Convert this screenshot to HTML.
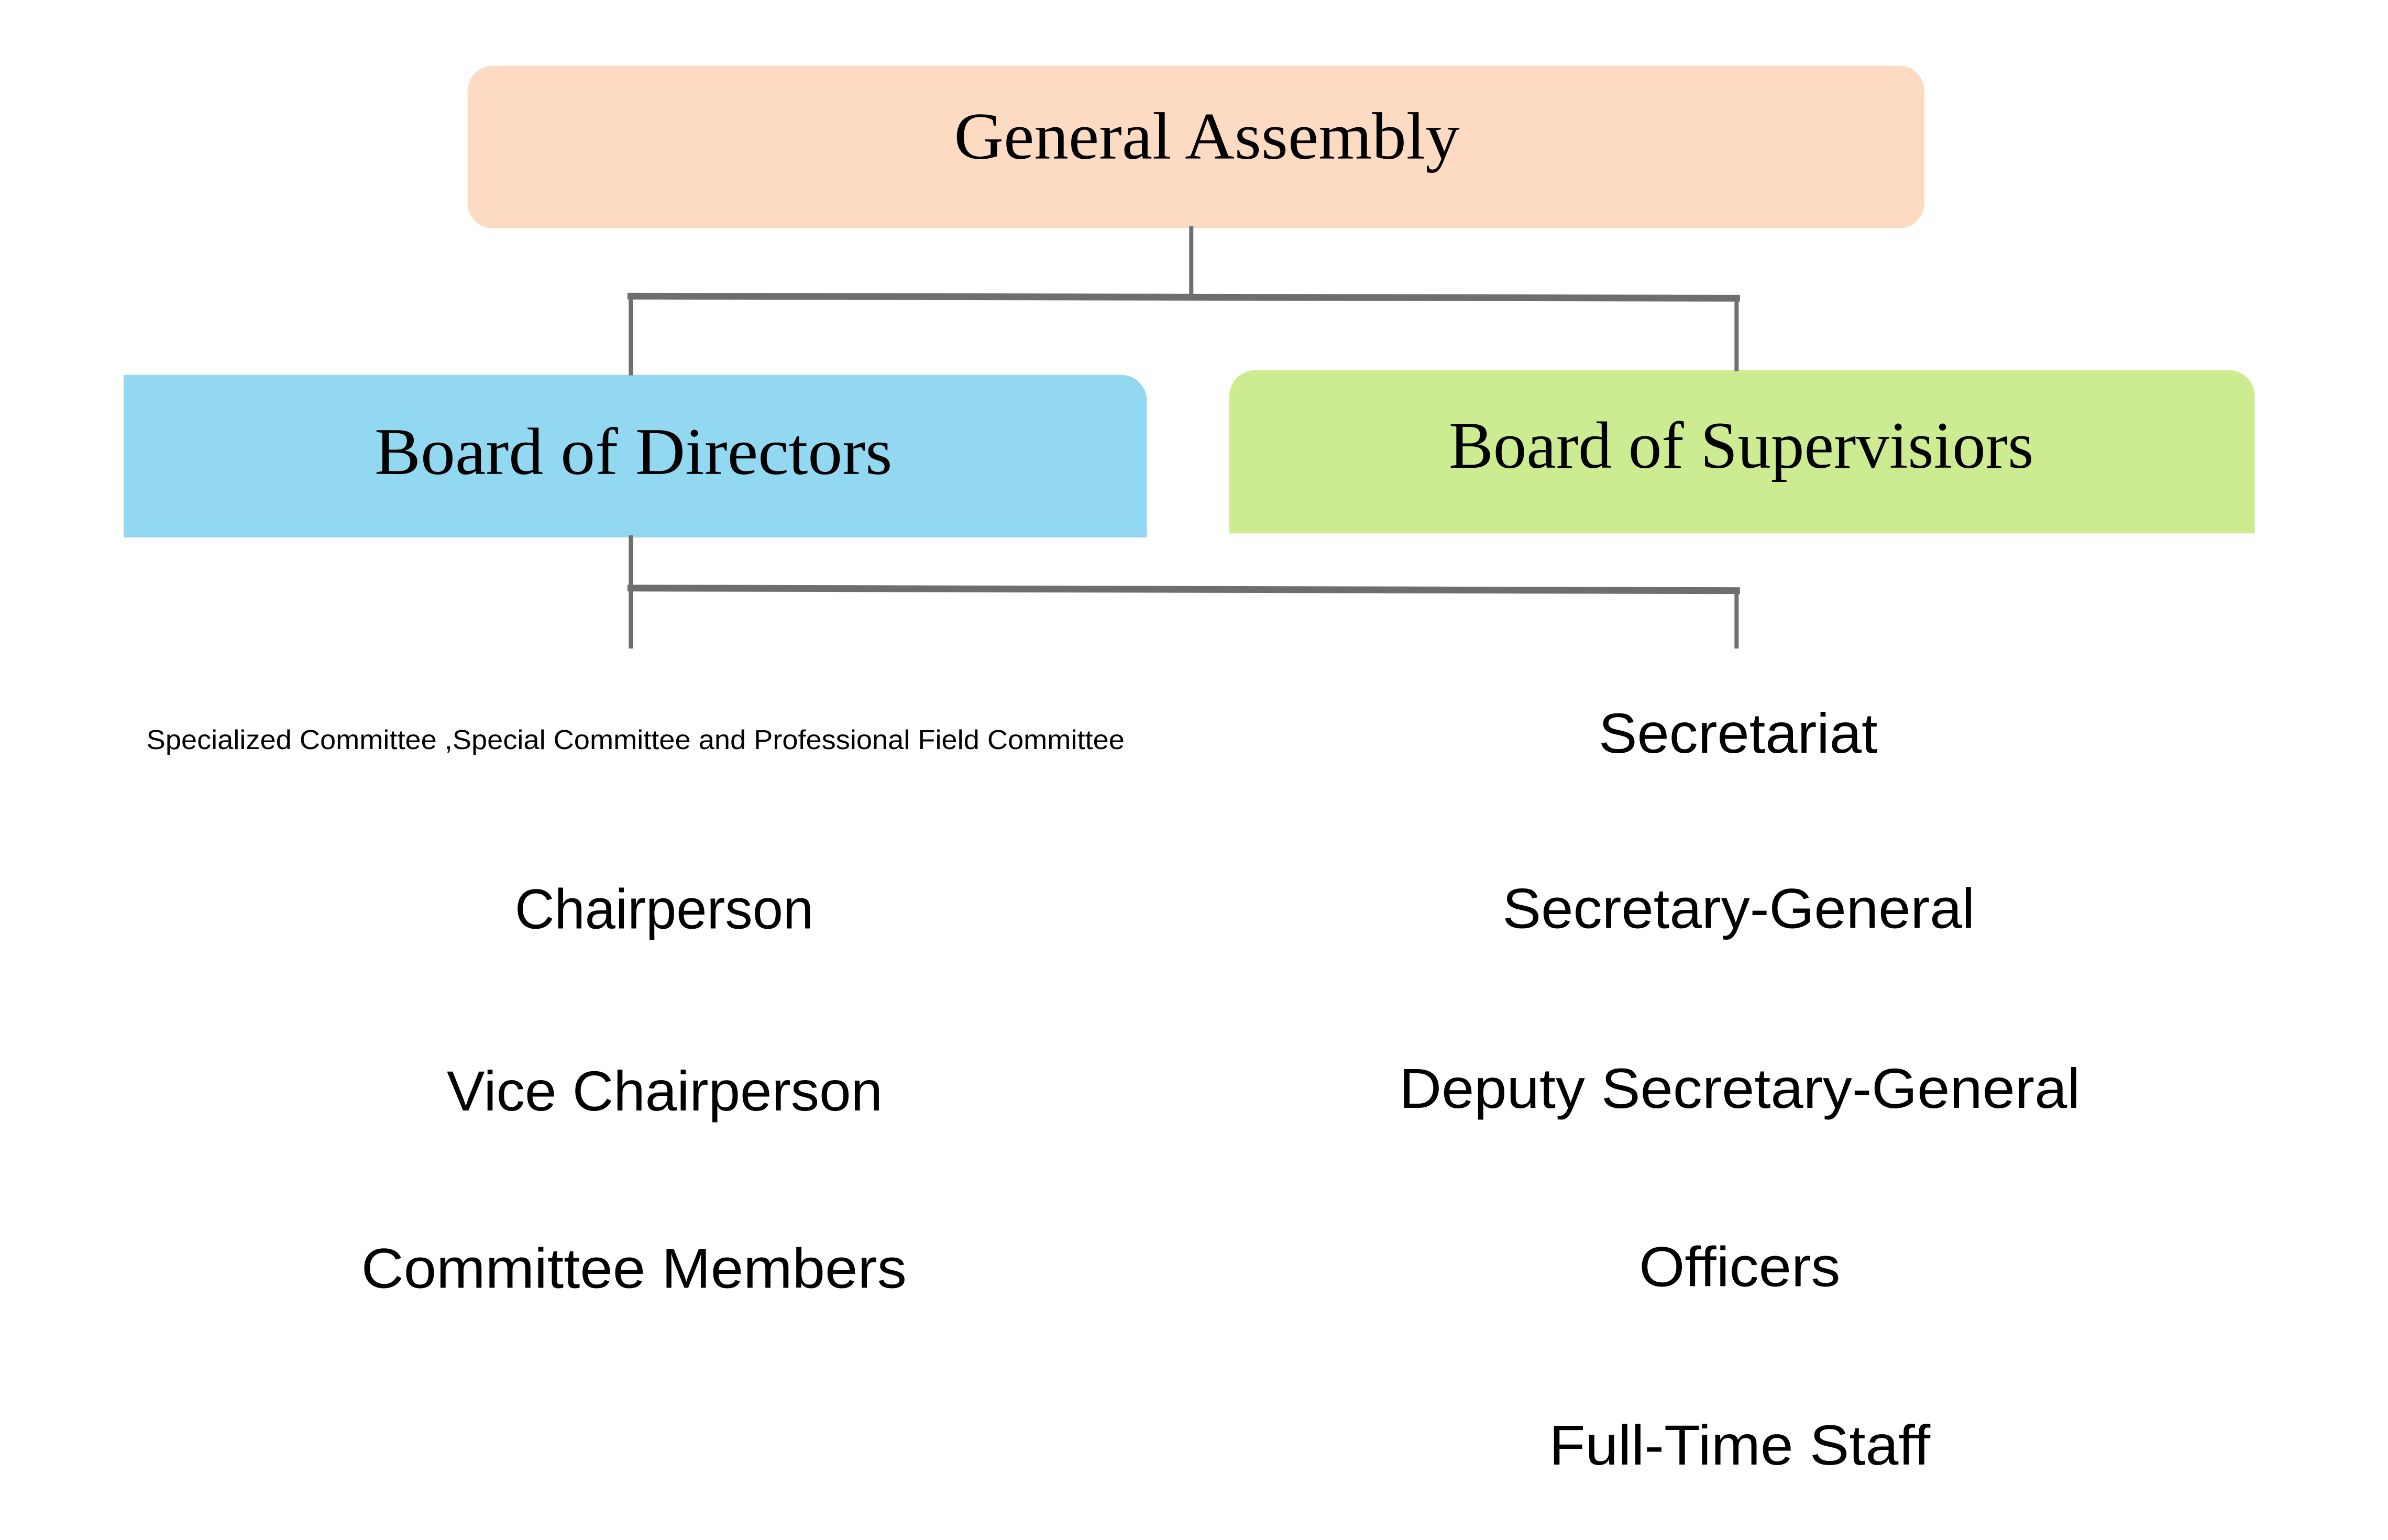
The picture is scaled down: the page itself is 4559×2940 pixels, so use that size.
<!DOCTYPE html>
<html><head><meta charset="utf-8"><style>
html,body{margin:0;padding:0;background:#fff;}
svg{display:block;}
.s{font-family:"Liberation Sans",sans-serif;fill:#000;}
.r{font-family:"Liberation Serif",serif;fill:#000;}
</style></head><body>
<svg width="4559" height="2940" viewBox="0 0 4559 2940" xmlns="http://www.w3.org/2000/svg">
<rect x="0" y="0" width="4559" height="2940" fill="#fff"/>
<g transform="scale(0.9953)">
<rect x="897" y="126" width="2794" height="312" rx="48" fill="#FDDBC3"/>
<path d="M237 719 h1913 a50 50 0 0 1 50 50 v262 h-1963 z" fill="#93D8F1"/>
<path d="M2358 760 a50 50 0 0 1 50 -50 h1867 a50 50 0 0 1 50 50 v263 h-1967 z" fill="#CDEC92"/>
<g stroke="#6e6e6e" fill="none" stroke-linecap="square">
<line x1="2285" y1="438" x2="2285" y2="568" stroke-width="8"/>
<line x1="1210" y1="568" x2="3331" y2="572" stroke-width="13"/>
<line x1="1210" y1="568" x2="1210" y2="716" stroke-width="8"/>
<line x1="3331" y1="572" x2="3331" y2="708" stroke-width="8"/>
<line x1="1210" y1="1031" x2="1210" y2="1128" stroke-width="8"/>
<line x1="1210" y1="1128" x2="3331" y2="1133" stroke-width="13"/>
<line x1="1210" y1="1128" x2="1210" y2="1240" stroke-width="8"/>
<line x1="3331" y1="1133" x2="3331" y2="1240" stroke-width="8"/>
</g>
<text class="r" x="2315" y="304" font-size="128" text-anchor="middle" textLength="970" lengthAdjust="spacingAndGlyphs">General Assembly</text>
<text class="r" x="1215" y="909" font-size="128" text-anchor="middle" textLength="993" lengthAdjust="spacingAndGlyphs">Board of  Directors</text>
<text class="r" x="3340" y="897" font-size="128" text-anchor="middle" textLength="1122" lengthAdjust="spacingAndGlyphs">Board of Supervisiors</text>
<text class="s" x="1219" y="1437" font-size="52" text-anchor="middle" textLength="1876" lengthAdjust="spacingAndGlyphs">Specialized Committee ,Special Committee and Professional Field Committee</text>
<text class="s" x="1274" y="1781" font-size="108" text-anchor="middle" textLength="573" lengthAdjust="spacingAndGlyphs">Chairperson</text>
<text class="s" x="1275" y="2130" font-size="108" text-anchor="middle" textLength="836" lengthAdjust="spacingAndGlyphs">Vice  Chairperson</text>
<text class="s" x="1216" y="2470" font-size="108" text-anchor="middle" textLength="1046" lengthAdjust="spacingAndGlyphs">Committee Members</text>
<text class="s" x="3334" y="1444" font-size="108" text-anchor="middle" textLength="535" lengthAdjust="spacingAndGlyphs">Secretariat</text>
<text class="s" x="3335" y="1780" font-size="108" text-anchor="middle" textLength="906" lengthAdjust="spacingAndGlyphs">Secretary-General</text>
<text class="s" x="3337" y="2125" font-size="108" text-anchor="middle" textLength="1306" lengthAdjust="spacingAndGlyphs">Deputy Secretary-General</text>
<text class="s" x="3337" y="2467" font-size="108" text-anchor="middle" textLength="386" lengthAdjust="spacingAndGlyphs">Officers</text>
<text class="s" x="3337" y="2809" font-size="108" text-anchor="middle" textLength="731" lengthAdjust="spacingAndGlyphs">Full-Time Staff</text>
</g>
</svg>
</body></html>
